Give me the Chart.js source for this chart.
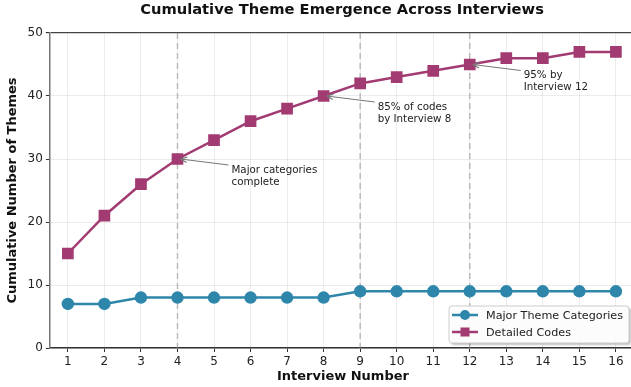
<!DOCTYPE html>
<html>
<head>
<meta charset="utf-8">
<script src="https://cdn.jsdelivr.net/npm/chart.js@4.4.1/dist/chart.umd.min.js"></script>
<style>
  html, body { margin: 0; padding: 0; background: #fff; overflow: hidden; }
  #wrap { width: 645px; height: 387px; }
</style>
</head>
<body>
<div id="wrap"><canvas id="themeChart"></canvas></div>
<script>
// interview numbers on the x axis
const interviews = [1, 2, 3, 4, 5, 6, 7, 8, 9, 10, 11, 12, 13, 14, 15, 16];
const majorThemes = [7, 7, 8, 8, 8, 8, 8, 8, 9, 9, 9, 9, 9, 9, 9, 9];
const detailedCodes = [15, 21, 26, 30, 33, 36, 38, 40, 42, 43, 44, 45, 46, 46, 47, 47];
const yTicks = [0, 10, 20, 30, 40, 50];
const markerLines = [4, 9, 12];
const notes = [
    { x: 4, y: 30, text: ['Major categories', 'complete'] },
    { x: 8, y: 40, text: ['85% of codes', 'by Interview 8'] },
    { x: 12, y: 45, text: ['95% by', 'Interview 12'] }
];
const chartTitle = 'Cumulative Theme Emergence Across Interviews';

const TEAL = '#2E86AB';
const PLUM = '#A23B72';
const FONT = "'DejaVu Sans', sans-serif";

// title over the plot, dashed lines, arrows + notes, and the legend box
const extras = {
    id: 'extras',
    beforeDatasetsDraw(chart) {
        const { ctx, chartArea, scales } = chart;
        ctx.save();
        ctx.fillStyle = '#111';
        ctx.font = 'bold 14.7px ' + FONT;
        ctx.textAlign = 'center';
        ctx.textBaseline = 'middle';
        ctx.fillText(chartTitle, (chartArea.left + scales.x.getPixelForValue(16.5)) / 2, 10.5);

        ctx.strokeStyle = 'rgba(150,150,150,0.6)';
        ctx.lineWidth = 1.5;
        ctx.setLineDash([6, 4]);
        markerLines.forEach(v => {
            const px = scales.x.getPixelForValue(v);
            ctx.beginPath();
            ctx.moveTo(px, chartArea.top);
            ctx.lineTo(px, chartArea.bottom);
            ctx.stroke();
        });
        ctx.restore();
    },
    afterDatasetsDraw(chart) {
        const { ctx, chartArea, scales } = chart;
        ctx.save();
        ctx.font = '10.3px ' + FONT;
        ctx.textBaseline = 'middle';
        notes.forEach(n => {
            const px = scales.x.getPixelForValue(n.x);
            const py = scales.y.getPixelForValue(n.y);
            const tx = px + 54, ty = py + 11;
            // arrow
            const sx = tx - 3, sy = ty - 5;
            const ex = px + 3, ey = py;
            ctx.strokeStyle = '#777';
            ctx.lineWidth = 1.2;
            ctx.beginPath();
            ctx.moveTo(sx, sy);
            ctx.lineTo(ex, ey);
            ctx.stroke();
            const ang = Math.atan2(ey - sy, ex - sx);
            ctx.beginPath();
            ctx.moveTo(ex, ey);
            ctx.lineTo(ex - 7 * Math.cos(ang - 0.4), ey - 7 * Math.sin(ang - 0.4));
            ctx.moveTo(ex, ey);
            ctx.lineTo(ex - 7 * Math.cos(ang + 0.4), ey - 7 * Math.sin(ang + 0.4));
            ctx.stroke();
            ctx.fillStyle = '#222';
            n.text.forEach((line, i) => ctx.fillText(line, tx, ty + i * 12));
        });

        // legend
        const bw = 180, bh = 37;
        const bx = 449, by = chartArea.bottom - bh - 5;
        ctx.shadowColor = 'rgba(0,0,0,0.25)';
        ctx.shadowOffsetX = 2;
        ctx.shadowOffsetY = 2;
        ctx.shadowBlur = 2;
        ctx.fillStyle = 'rgba(255,255,255,0.95)';
        ctx.beginPath();
        ctx.roundRect(bx, by, bw, bh, 3);
        ctx.fill();
        ctx.shadowColor = 'transparent';
        ctx.strokeStyle = '#ccc';
        ctx.lineWidth = 1;
        ctx.stroke();
        ctx.font = '11.2px ' + FONT;
        chart.data.datasets.forEach((ds, i) => {
            const ly = by + 9 + i * 17;
            ctx.strokeStyle = ds.borderColor;
            ctx.lineWidth = 2.5;
            ctx.beginPath();
            ctx.moveTo(bx + 3, ly);
            ctx.lineTo(bx + 29, ly);
            ctx.stroke();
            ctx.fillStyle = ds.borderColor;
            if (ds.pointStyle === 'rect') {
                ctx.fillRect(bx + 11.5, ly - 4.5, 9, 9);
            } else {
                ctx.beginPath();
                ctx.arc(bx + 16, ly, 5, 0, Math.PI * 2);
                ctx.fill();
            }
            ctx.fillStyle = '#222';
            ctx.fillText(ds.label, bx + 37, ly + 1);
        });
        ctx.restore();
    }
};

new Chart(document.getElementById('themeChart'), {
    type: 'line',
    data: {
        datasets: [
            {
                label: 'Major Theme Categories',
                data: interviews.map((x, i) => ({ x: x, y: majorThemes[i] })),
                borderColor: TEAL,
                backgroundColor: TEAL,
                borderWidth: 2.5,
                pointStyle: 'circle',
                pointRadius: 5,
                pointHoverRadius: 5
            },
            {
                label: 'Detailed Codes',
                data: interviews.map((x, i) => ({ x: x, y: detailedCodes[i] })),
                borderColor: PLUM,
                backgroundColor: PLUM,
                borderWidth: 2.5,
                pointStyle: 'rect',
                pointRadius: 6.5,
                pointHoverRadius: 6.5
            }
        ]
    },
    options: {
        responsive: true,
        maintainAspectRatio: false,
        animation: false,
        layout: { padding: { left: 5, right: 0, top: 33, bottom: 3 } },
        scales: {
            x: {
                type: 'linear',
                min: 0.507,
                max: 16.55,
                afterBuildTicks: s => { s.ticks = interviews.map(v => ({ value: v })); },
                title: { display: true, text: 'Interview Number', color: '#111', font: { family: FONT, size: 13, weight: 'bold' }, padding: { top: -4, bottom: 0 } },
                ticks: { color: '#222', font: { family: FONT, size: 12 }, padding: 3 },
                grid: { color: 'rgba(200,200,200,0.35)', tickColor: '#333', tickLength: 4 },
                border: { color: '#333', width: 1.5 }
            },
            y: {
                min: 0,
                max: 50,
                afterBuildTicks: s => { s.ticks = yTicks.map(v => ({ value: v })); },
                title: { display: true, text: 'Cumulative Number of Themes', color: '#111', font: { family: FONT, size: 13, weight: 'bold' }, padding: { top: 0, bottom: 4 } },
                ticks: { color: '#222', font: { family: FONT, size: 12 }, padding: 3 },
                grid: {
                    color: c => c.tick && c.tick.value === 50 ? '#444' : 'rgba(200,200,200,0.35)',
                    lineWidth: c => c.tick && c.tick.value === 50 ? 1.2 : 1,
                    tickColor: '#333',
                    tickLength: 4
                },
                border: { color: '#777', width: 1.5 }
            }
        },
        plugins: {
            legend: { display: false },
            tooltip: { enabled: false },
            title: { display: false }
        }
    },
    plugins: [extras]
});
</script>
</body>
</html>
